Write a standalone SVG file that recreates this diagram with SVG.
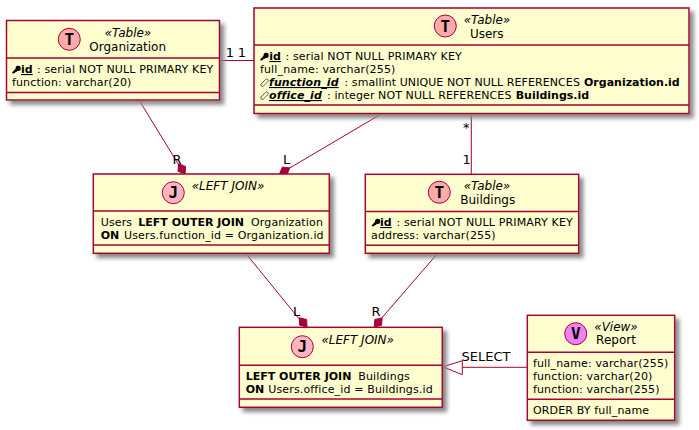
<svg xmlns="http://www.w3.org/2000/svg" width="699" height="430" viewBox="0 0 699 430">
<style>
text{font-family:"DejaVu Sans",sans-serif;fill:#000}
.box{fill:#FEFECE;stroke:#A80036;stroke-width:1.5;filter:url(#sh)}
.div{stroke:#A80036;stroke-width:1.5;fill:none}
.st{font-size:12px;font-style:italic;text-anchor:middle}
.nm{font-size:12px;text-anchor:middle}
.m{font-size:11px;letter-spacing:.14px}
.b{font-weight:bold;letter-spacing:0}
.u{text-decoration:underline;text-decoration-thickness:1px}
.bi{font-weight:bold;font-style:italic;letter-spacing:.1px;text-decoration:underline;text-decoration-thickness:1px}
.c{stroke:#A80036;stroke-width:1;fill:#FFAAAA}
.j{fill:#FFB6C1}
.v{fill:#EE82EE}
.l{font-family:"DejaVu Sans Mono",monospace;font-size:16px;font-weight:bold;text-anchor:middle}
.cn{stroke:#A80036;stroke-width:1;fill:none}
.d{fill:#A80036;stroke:#A80036;stroke-width:1}
.lb{font-size:13px}
</style>
<defs>
<filter id="sh" x="-10%" y="-10%" width="120%" height="125%"><feGaussianBlur in="SourceAlpha" stdDeviation="2"/><feOffset dx="4" dy="4"/><feColorMatrix values="0 0 0 0 0.25 0 0 0 0 0.25 0 0 0 0 0.25 0 0 0 1 0"/><feMerge><feMergeNode/><feMergeNode in="SourceGraphic"/></feMerge></filter>
<path id="key" d="M0 8 L1 6.4 L3.6 3.8 A2.6 2.6 0 1 1 6.2 6 L5 6 L4.6 7 L3.4 7 L3 8 L1 8.4Z" fill="#000"/>
<g id="lnk" fill="none" stroke="#333" stroke-width=".8"><path d="M3.5 3.5 L5.8 1.2 A1.6 1.6 0 0 1 8 3.4 L5 6.4"/><path d="M5 6.5 L3.2 8.2 A1.6 1.6 0 0 1 1 6 L4 3"/></g>
</defs>
<g id="connectors">
<path class="cn" d="M219.5 60.5H254"/>
<path class="cn" d="M139 100L180 167"/>
<path class="d" d="M185 174L185.6 166.5L178.7 163.8L178 171.3Z"/>
<path class="cn" d="M382 113.5L288 169"/>
<path class="d" d="M279.5 174L286.9 174.9L289.8 167.9L282.3 167.1Z"/>
<path class="cn" d="M471.3 113.5V174.3"/>
<path class="cn" d="M245.7 253.3L300 320"/>
<path class="d" d="M307 327L306.7 319.5L299.3 317.8L299.7 325.3Z"/>
<path class="cn" d="M437.7 253.3L380 320"/>
<path class="d" d="M374.3 327L381.6 325.3L382.1 317.9L374.8 319.5Z"/>
<path class="cn" d="M527.3 367.3H462.3"/>
<path d="M442.8 366.8L462.3 360.7V374.7Z" fill="none" stroke="#A80036" stroke-width="1"/>
<text class="lb" x="225.8" y="57">1</text>
<text class="lb" x="237.8" y="57">1</text>
<text class="lb" x="172.5" y="163.5">R</text>
<text class="lb" x="283" y="163.5">L</text>
<text class="lb" x="463" y="132">*</text>
<text class="lb" x="462.5" y="164">1</text>
<text class="lb" x="293" y="316">L</text>
<text class="lb" x="371.5" y="316">R</text>
<text class="lb" x="461.5" y="361">SELECT</text>
</g>
<g id="organization">
<rect class="box" x="6.5" y="20.5" width="213" height="79.5"/>
<path class="div" d="M6.5 58H219.5M6.5 92.5H219.5"/>
<circle class="c" cx="69.3" cy="39.3" r="11"/>
<text class="l" x="69.3" y="45">T</text>
<text class="st" x="128" y="36.5">«Table»</text>
<text class="nm" x="127.7" y="50.5">Organization</text>
<use href="#key" x="12" y="65"/>
<text class="m b u" x="21" y="73">id</text>
<text class="m" x="37" y="73">: serial NOT NULL PRIMARY KEY</text>
<text class="m" x="12" y="85.5">function: varchar(20)</text>
</g>
<g id="users">
<rect class="box" x="254" y="8" width="435" height="105.5"/>
<path class="div" d="M254 45H689M254 105H689"/>
<circle class="c" cx="445.3" cy="26" r="11"/>
<text class="l" x="445.3" y="31.7">T</text>
<text class="st" x="487" y="24">«Table»</text>
<text class="nm" x="486.7" y="37.5">Users</text>
<use href="#key" x="260" y="52"/>
<text class="m b u" x="269.3" y="60">id</text>
<text class="m" x="285.5" y="60">: serial NOT NULL PRIMARY KEY</text>
<text class="m" x="260" y="73">full_name: varchar(255)</text>
<use href="#lnk" x="260" y="78"/>
<text class="m bi" x="269" y="86">function_id</text>
<text class="m" x="344.5" y="86" textLength="235.5">: smallint UNIQUE NOT NULL REFERENCES</text>
<text class="m b" x="584" y="86">Organization.id</text>
<use href="#lnk" x="260" y="91"/>
<text class="m bi" x="269" y="99">office_id</text>
<text class="m" x="327" y="99" textLength="184.5">: integer NOT NULL REFERENCES</text>
<text class="m b" x="515.7" y="99">Buildings.id</text>
</g>
<g id="join-users-organization">
<rect class="box" x="93.3" y="174" width="236" height="79.3"/>
<path class="div" d="M93.3 211H329.3M93.3 245H329.3"/>
<circle class="c j" cx="173.3" cy="192.7" r="11"/>
<text class="l" x="173.3" y="198.4">J</text>
<text class="st" x="228" y="190">«LEFT JOIN»</text>
<text class="m" x="100.7" y="226">Users</text>
<text class="m b" x="138.3" y="226">LEFT OUTER JOIN</text>
<text class="m" x="251" y="226">Organization</text>
<text class="m b" x="100.7" y="239">ON</text>
<text class="m" x="124" y="239">Users.function_id = Organization.id</text>
</g>
<g id="buildings">
<rect class="box" x="365.3" y="174.3" width="213.4" height="79"/>
<path class="div" d="M365.3 211.5H578.7M365.3 245.3H578.7"/>
<circle class="c" cx="439.3" cy="192.3" r="11"/>
<text class="l" x="439.3" y="198">T</text>
<text class="st" x="487" y="190">«Table»</text>
<text class="nm" x="487.7" y="204">Buildings</text>
<use href="#key" x="371.5" y="218"/>
<text class="m b u" x="380" y="226">id</text>
<text class="m" x="396.5" y="226">: serial NOT NULL PRIMARY KEY</text>
<text class="m" x="371" y="239">address: varchar(255)</text>
</g>
<g id="join-buildings">
<rect class="box" x="239.3" y="327.3" width="203" height="80"/>
<path class="div" d="M239.3 365.3H442.3M239.3 399H442.3"/>
<circle class="c j" cx="302.3" cy="346.7" r="11"/>
<text class="l" x="302.3" y="352.4">J</text>
<text class="st" x="357.7" y="343.5">«LEFT JOIN»</text>
<text class="m b" x="245.7" y="380">LEFT OUTER JOIN</text>
<text class="m" x="358.3" y="380">Buildings</text>
<text class="m b" x="245.7" y="393">ON</text>
<text class="m" x="268.3" y="393">Users.office_id = Buildings.id</text>
</g>
<g id="report">
<rect class="box" x="527.3" y="315.3" width="147.4" height="105"/>
<path class="div" d="M527.3 352.3H674.7M527.3 399.3H674.7"/>
<circle class="c v" cx="575.7" cy="333.7" r="11"/>
<text class="l" x="575.7" y="339.4">V</text>
<text class="st" x="616" y="330.5">«View»</text>
<text class="nm" x="616" y="344.3">Report</text>
<text class="m" x="533" y="367">full_name: varchar(255)</text>
<text class="m" x="533" y="380">function: varchar(20)</text>
<text class="m" x="533" y="393">function: varchar(255)</text>
<text class="m" x="533" y="414">ORDER BY full_name</text>
</g>
</svg>
